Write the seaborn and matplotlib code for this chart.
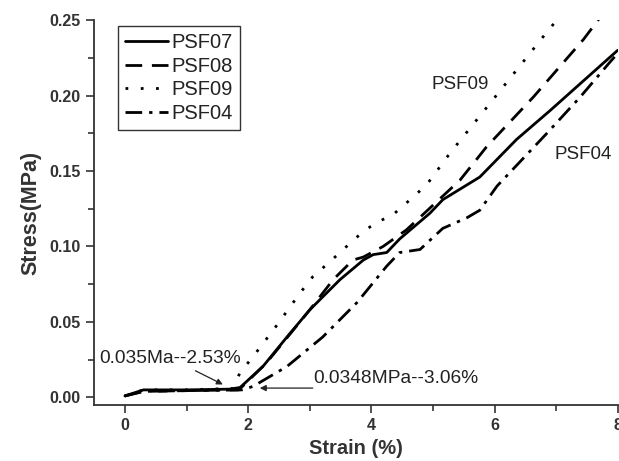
import numpy as np
import pandas as pd
import seaborn as sns
import matplotlib
matplotlib.use("Agg")
import matplotlib.pyplot as plt
from matplotlib.ticker import MultipleLocator

# ---- data ----
psf07_x = [0, 0.3, 1.0, 1.7, 1.87, 2.24, 2.63, 3.0, 3.49, 3.87, 4.03, 4.25, 4.46, 4.95, 5.16, 5.76, 6.36, 6.9, 8.0]
psf07_y = [0.001, 0.005, 0.005, 0.0055, 0.0066, 0.0205, 0.040, 0.058, 0.078, 0.091, 0.0946, 0.096, 0.105, 0.122, 0.131, 0.146, 0.171, 0.190, 0.230]

psf08_x = [0, 0.3, 1.0, 1.85, 2.3, 3.0, 3.38, 3.7, 3.87, 4.19, 4.57, 5.44, 5.87, 6.63, 7.44, 7.7]
psf08_y = [0.001, 0.004, 0.0045, 0.005, 0.023, 0.058, 0.078, 0.091, 0.093, 0.100, 0.111, 0.144, 0.166, 0.199, 0.237, 0.251]

psf09_x = [0, 0.3, 1.0, 1.75, 1.87, 2.08, 2.47, 2.84, 3.05, 3.33, 3.57, 3.87, 4.09, 4.35, 4.63, 4.9, 5.28, 5.93, 6.36, 6.79, 7.03]
psf09_y = [0.001, 0.005, 0.005, 0.006, 0.0165, 0.027, 0.048, 0.069, 0.080, 0.090, 0.099, 0.110, 0.116, 0.121, 0.131, 0.141, 0.162, 0.195, 0.217, 0.239, 0.251]

psf04_x = [0, 0.3, 1.0, 1.9, 2.08, 2.63, 3.21, 3.77, 4.25, 4.46, 4.79, 5.16, 5.55, 5.76, 6.04, 6.85, 7.39, 7.87, 8.0]
psf04_y = [0.001, 0.004, 0.0045, 0.005, 0.0073, 0.0205, 0.040, 0.063, 0.087, 0.096, 0.098, 0.112, 0.119, 0.124, 0.140, 0.175, 0.199, 0.222, 0.228]

series_names = ["PSF07", "PSF08", "PSF09", "PSF04"]
series_x = [psf07_x, psf08_x, psf09_x, psf04_x]
series_y = [psf07_y, psf08_y, psf09_y, psf04_y]

x_ticks = [0, 2, 4, 6, 8]
y_ticks = [0.00, 0.05, 0.10, 0.15, 0.20, 0.25]

frames = []
for n, xs, ys in zip(series_names, series_x, series_y):
    frames.append(pd.DataFrame({"strain": xs, "stress": ys, "series": n}))
df = pd.concat(frames, ignore_index=True)

sns.set_theme(style="ticks")
plt.rcParams["font.family"] = ["Liberation Sans", "DejaVu Sans"]

fig = plt.figure(figsize=(6.19, 4.61), dpi=100)
ax = fig.add_axes([0.152, 0.1215, 0.846, 0.835])

dashes = {
    "PSF07": "",
    "PSF08": (6, 3.5),
    "PSF09": (1, 4.5),
    "PSF04": (6, 2.5, 1.2, 2.5),
}
sns.lineplot(data=df, x="strain", y="stress", hue="series", style="series",
             palette={n: "black" for n in series_names}, dashes=dashes,
             sort=False, estimator=None, units="series", linewidth=2.0, ax=ax,
             legend=True)

ax.set_xlim(-0.5, 8)
ax.set_ylim(-0.005, 0.25)
ax.set_xticks(x_ticks)
ax.set_yticks(y_ticks)
ax.set_yticklabels([f"{v:.2f}" for v in y_ticks])
ax.xaxis.set_minor_locator(MultipleLocator(1))
ax.yaxis.set_minor_locator(MultipleLocator(0.025))
ax.tick_params(which="major", direction="out", length=6, width=1.2, labelsize=11.5, color="#333333")
ax.tick_params(which="minor", direction="out", length=4, width=1.2, color="#333333")
for lab in ax.get_xticklabels() + ax.get_yticklabels():
    lab.set_fontweight("bold")
    lab.set_color("#333333")
for s in ["top", "right"]:
    ax.spines[s].set_visible(False)
for s in ["left", "bottom"]:
    ax.spines[s].set_linewidth(1.3)
    ax.spines[s].set_color("#333333")

ax.set_xlabel("Strain (%)", fontsize=14.5, fontweight="bold", color="#333333", labelpad=4)
ax.set_ylabel("Stress(MPa)", fontsize=15.5, fontweight="bold", color="#333333", labelpad=6)

leg = ax.legend(loc="upper left", bbox_to_anchor=(0.046, 0.984), borderaxespad=0,
                fontsize=14.5, frameon=True, fancybox=False, handlelength=2.1,
                handletextpad=0.2, borderpad=0.35, labelspacing=0.22, title=None)
leg.get_frame().set_edgecolor("black")
leg.get_frame().set_linewidth(1.0)
for t in leg.get_texts():
    t.set_color("#222222")

ax.text(4.98, 0.207, "PSF09", fontsize=13.5, va="center", ha="left", color="#222222")
ax.text(6.98, 0.161, "PSF04", fontsize=13.5, va="center", ha="left", color="#222222")

ax.annotate("0.035Ma--2.53%", xy=(1.59, 0.0086), xytext=(-0.41, 0.0225),
            fontsize=13.8, color="#222222", ha="left", va="baseline",
            arrowprops=dict(arrowstyle="-|>", color="#222222", lw=0.9,
                            shrinkA=0, shrinkB=0, mutation_scale=9,
                            relpos=(0.63, 0.0)))
ax.annotate("", xy=(2.19, 0.0062), xytext=(3.05, 0.0062),
            arrowprops=dict(arrowstyle="-|>", color="#222222", lw=0.9,
                            shrinkA=0, shrinkB=0, mutation_scale=9))
ax.text(3.05, 0.0068, "0.0348MPa--3.06%", fontsize=13.8, color="#222222",
        ha="left", va="bottom")

fig.savefig("out.png", dpi=100)
